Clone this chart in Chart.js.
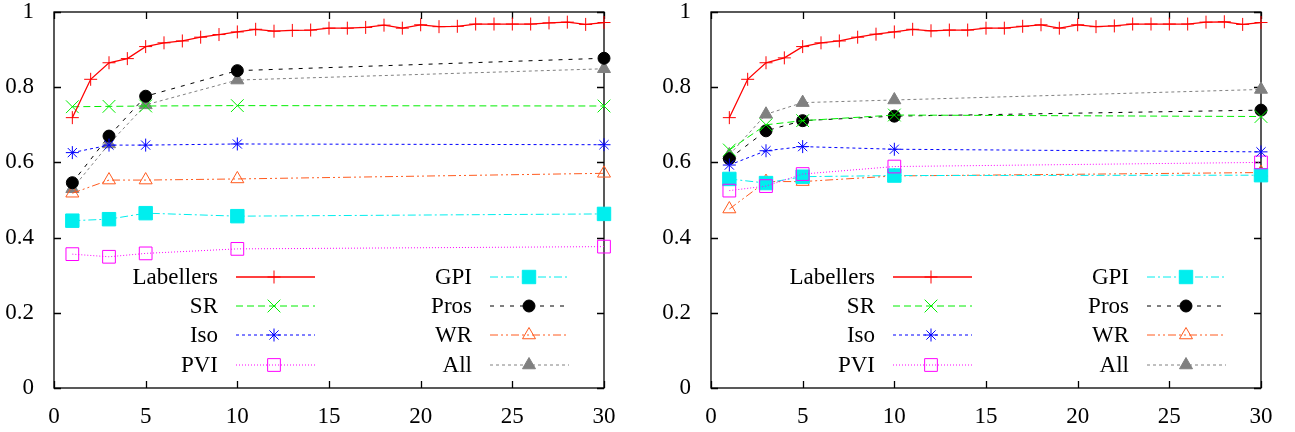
<!DOCTYPE html>
<html lang="en">
<head>
<meta charset="UTF-8">
<title>Labellers vs methods</title>
<script src="https://cdn.jsdelivr.net/npm/chart.js"></script>
<style>
    html, body { margin: 0; padding: 0; background: #fff; }
    .wrap { position: relative; width: 1295px; height: 432px; }
    .wrap canvas { position: absolute; top: 0; }
    #leftCanva { left: 0; }
    #rightCanva { left: 648px; }
</style>
</head>
<body>
<div class="wrap">
    <canvas id="leftCanva" width="648" height="432"></canvas>
    <canvas id="rightCanva" width="647" height="432"></canvas>
</div>
<script>
// x values
const kAll = [1,2,3,4,5,6,7,8,9,10,11,12,13,14,15,16,17,18,19,20,21,22,23,24,25,26,27,28,29,30];
const kFew = [1, 3, 5, 10, 30];
const xTicks = [0, 5, 10, 15, 20, 25, 30];
const yTicks = [0, 0.2, 0.4, 0.6, 0.8, 1];

// left panel
const labellersLeft = [0.719,0.821,0.865,0.876,0.908,0.918,0.923,0.933,0.940,0.947,0.954,0.949,0.951,0.952,0.957,0.957,0.959,0.965,0.957,0.966,0.961,0.962,0.968,0.968,0.968,0.968,0.971,0.973,0.967,0.972];
const srLeft   = [0.748, 0.749, 0.750, 0.751, 0.750];
const isoLeft  = [0.626, 0.646, 0.646, 0.649, 0.647];
const pviLeft  = [0.356, 0.349, 0.358, 0.370, 0.376];
const gpiLeft  = [0.445, 0.449, 0.465, 0.457, 0.463];
const prosLeft = [0.546, 0.670, 0.776, 0.844, 0.877];
const wrLeft   = [0.518, 0.553, 0.553, 0.556, 0.571];
const allLeft  = [0.530, 0.649, 0.753, 0.819, 0.849];

// right panel
const labellersRight = [0.719,0.821,0.865,0.878,0.908,0.918,0.923,0.933,0.941,0.947,0.954,0.950,0.952,0.952,0.957,0.957,0.962,0.966,0.957,0.966,0.961,0.963,0.968,0.968,0.968,0.968,0.973,0.974,0.967,0.972];
const srRight   = [0.633, 0.700, 0.711, 0.726, 0.722];
const isoRight  = [0.593, 0.631, 0.642, 0.635, 0.628];
const pviRight  = [0.525, 0.537, 0.569, 0.589, 0.600];
const gpiRight  = [0.556, 0.545, 0.562, 0.565, 0.566];
const prosRight = [0.610, 0.684, 0.711, 0.723, 0.739];
const wrRight   = [0.476, 0.549, 0.549, 0.564, 0.573];
const allRight  = [0.620, 0.728, 0.759, 0.766, 0.794];

const seriesNames = ['Labellers', 'SR', 'Iso', 'PVI', 'GPI', 'Pros', 'WR', 'All'];

// look of each series (gnuplot style)
const looks = {
    'Labellers': { color: '#ff0000', dash: [], style: 'cross', r: 6.5, fill: false, w: 1.3 },
    'SR':   { color: '#00ee00', dash: [7, 4], style: 'crossRot', r: 9, fill: false, w: 1 },
    'Iso':  { color: '#0000ff', dash: [3, 3], style: 'star', r: 6.5, fill: false, w: 1 },
    'PVI':  { color: '#ff00ff', dash: [1, 2], style: 'rect', r: 9, fill: false, w: 1 },
    'GPI':  { color: '#00eeee', dash: [8, 3, 2, 3], style: 'rect', r: 9.5, fill: true, w: 1 },
    'Pros': { color: '#000000', dash: [4, 6], style: 'circle', r: 6, fill: true, w: 1 },
    'WR':   { color: '#ff5a1e', dash: [8, 3, 2, 3, 2, 3], style: 'triangle', r: 7.5, fill: false, w: 1 },
    'All':  { color: '#808080', dash: [3, 3], style: 'triangle', r: 7.5, fill: true, w: 1 }
};

const FONT = "'Liberation Serif', 'Times New Roman', serif";
const FSIZE = 23;

function toPoints(xs, ys) {
    return xs.map((x, i) => ({ x: x, y: ys[i] }));
}

function makeDatasets(values) {
    return seriesNames.map((name, i) => {
        const lk = looks[name];
        const xs = name === 'Labellers' ? kAll : kFew;
        return {
            label: name,
            data: toPoints(xs, values[i]),
            borderColor: lk.color,
            borderWidth: lk.w,
            borderDash: lk.dash,
            pointStyle: lk.style,
            pointRadius: lk.r,
            pointHoverRadius: lk.r,
            pointBorderColor: lk.color,
            pointBackgroundColor: lk.fill ? lk.color : 'rgba(0,0,0,0)',
            pointBorderWidth: 1,
            tension: 0,
            fill: false,
            clip: false
        };
    });
}

// frame with inward ticks on all four sides
const framePlugin = {
    id: 'frame',
    beforeDatasetsDraw(chart) {
        const { ctx, chartArea: a, scales } = chart;
        const t = 7;
        ctx.save();
        ctx.strokeStyle = '#000';
        ctx.lineWidth = 1.3;
        ctx.setLineDash([]);
        ctx.strokeRect(a.left, a.top, a.right - a.left, a.bottom - a.top);
        ctx.beginPath();
        xTicks.forEach(v => {
            const px = Math.round(scales.x.getPixelForValue(v)) + 0.5;
            ctx.moveTo(px, a.bottom); ctx.lineTo(px, a.bottom - t);
            ctx.moveTo(px, a.top); ctx.lineTo(px, a.top + t);
        });
        yTicks.forEach(v => {
            const py = Math.round(scales.y.getPixelForValue(v)) + 0.5;
            ctx.moveTo(a.left, py); ctx.lineTo(a.left + t, py);
            ctx.moveTo(a.right, py); ctx.lineTo(a.right - t, py);
        });
        ctx.stroke();
        ctx.restore();
    }
};

// two-column legend inside the plot, like gnuplot's
const keyPlugin = {
    id: 'gkey',
    afterDatasetsDraw(chart) {
        const { ctx, chartArea: a } = chart;
        const rows = [265, 294, 323, 353];
        const cols = [
            { textEnd: 164, lineFrom: 182, lineTo: 261, mark: 220 },
            { textEnd: 418, lineFrom: 436, lineTo: 515, mark: 475 }
        ];
        ctx.save();
        chart.data.datasets.forEach((ds, i) => {
            const c = cols[i < 4 ? 0 : 1];
            const y = a.top + rows[i % 4];
            ctx.setLineDash([]);
            ctx.fillStyle = '#000';
            ctx.font = FSIZE + 'px ' + FONT;
            ctx.textAlign = 'right';
            ctx.textBaseline = 'middle';
            ctx.fillText(ds.label, a.left + c.textEnd, y + 1);

            ctx.strokeStyle = ds.borderColor;
            ctx.lineWidth = ds.borderWidth;
            ctx.setLineDash(ds.borderDash);
            ctx.beginPath();
            ctx.moveTo(a.left + c.lineFrom, y);
            ctx.lineTo(a.left + c.lineTo, y);
            ctx.stroke();

            ctx.setLineDash([]);
            ctx.lineWidth = 1;
            ctx.fillStyle = ds.pointBackgroundColor;
            ctx.strokeStyle = ds.pointBorderColor;
            Chart.helpers.drawPoint(ctx, {
                pointStyle: ds.pointStyle,
                radius: ds.pointRadius,
                rotation: 0,
                borderWidth: 1
            }, a.left + c.mark, y);
        });
        ctx.restore();
    }
};

function makeChart(id, values, yWidth, rightPad) {
    return new Chart(document.getElementById(id).getContext('2d'), {
        type: 'line',
        data: { datasets: makeDatasets(values) },
        options: {
            responsive: false,
            animation: false,
            events: [],
            layout: { padding: { top: 12, right: rightPad, bottom: 0, left: 0 } },
            plugins: { legend: { display: false }, tooltip: { enabled: false } },
            scales: {
                x: {
                    type: 'linear', min: 0, max: 30,
                    grid: { display: false, drawTicks: false },
                    border: { display: false },
                    afterBuildTicks: s => { s.ticks = xTicks.map(v => ({ value: v })); },
                    afterFit: s => { s.height = 44; s.paddingLeft = 0; s.paddingRight = 0; },
                    ticks: { color: '#000', padding: 15, maxRotation: 0, font: { family: FONT, size: FSIZE } }
                },
                y: {
                    type: 'linear', min: 0, max: 1,
                    grid: { display: false, drawTicks: false },
                    border: { display: false },
                    afterBuildTicks: s => { s.ticks = yTicks.map(v => ({ value: v })); },
                    afterFit: s => { s.width = yWidth; s.paddingTop = 0; s.paddingBottom = 0; },
                    ticks: {
                        color: '#000', padding: 20, font: { family: FONT, size: FSIZE },
                        callback: v => String(Math.round(v * 10) / 10)
                    }
                }
            }
        },
        plugins: [framePlugin, keyPlugin]
    });
}

makeChart('leftCanva',
    [labellersLeft, srLeft, isoLeft, pviLeft, gpiLeft, prosLeft, wrLeft, allLeft], 54, 44);
makeChart('rightCanva',
    [labellersRight, srRight, isoRight, pviRight, gpiRight, prosRight, wrRight, allRight], 63, 34);
</script>
</body>
</html>
